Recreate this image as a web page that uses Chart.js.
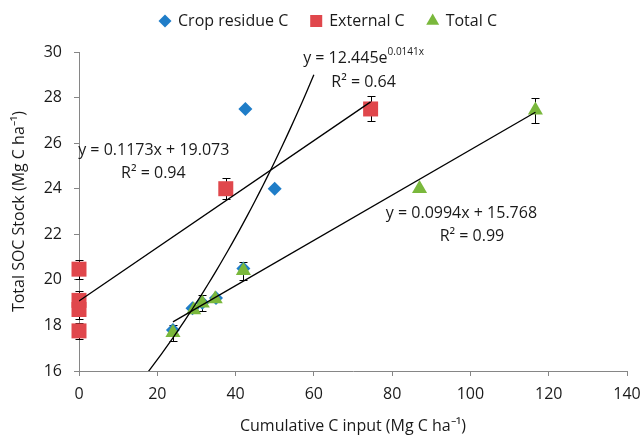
<!DOCTYPE html>
<html>
<head>
<meta charset="utf-8">
<script src="https://cdn.jsdelivr.net/npm/chart.js@4.4.0/dist/chart.umd.min.js"></script>
<style>
  html, body { margin: 0; padding: 0; background: #fff; }
  #wrap { width: 642px; height: 436px; }
</style>
</head>
<body>
<div id="wrap"><canvas id="socChart"></canvas></div>
<script>
// Crop residue C
const residueX = [24, 29, 31.5, 35, 42, 42.5, 50];
const residueY = [17.8, 18.75, 19.0, 19.2, 20.5, 27.5, 24.0];

// External C
const externalX = [0, 0, 0, 0, 37.5, 74.5];
const externalY = [20.47, 19.1, 18.7, 17.76, 24.0, 27.5];
const externalErr = [0.42, 0.4, 0.4, 0.35, 0.47, 0.55];

// Total C
const totalX = [24, 29.3, 31.5, 34.8, 42, 87, 116.6];
const totalY = [17.68, 18.68, 18.98, 19.16, 20.4, 24.0, 27.45];
const totalErr = [0.35, 0, 0.35, 0, 0.4, 0, 0.55];

// trendlines, coefficients as printed on the chart
const externalFit = [0.1173, 19.073];   // y = a*x + b
const totalFit = [0.0994, 15.768];      // y = a*x + b
const residueFit = [12.445, 0.0141];    // y = a*e^(b*x)
const externalFitRange = [0, 74.5];
const totalFitRange = [24, 116.6];
const residueFitRange = [16, 60];

const xTicks = [0, 20, 40, 60, 80, 100, 120, 140];
const yTicks = [16, 18, 20, 22, 24, 26, 28, 30];

const textColor = '#1a1a1a';
const axisColor = '#868686';
const FONT = "'Open Sans', sans-serif";

function toPoints(xs, ys) {
  return xs.map((x, i) => ({ x: x, y: ys[i] }));
}

function linearLine(fit, range) {
  return range.map(x => ({ x: x, y: fit[0] * x + fit[1] }));
}

function expLine(fit, range) {
  const pts = [];
  for (let x = range[0]; x <= range[1]; x += 1) {
    pts.push({ x: x, y: fit[0] * Math.exp(fit[1] * x) });
  }
  return pts;
}

const trendStyle = {
  showLine: true,
  pointRadius: 0,
  borderColor: '#000',
  borderWidth: 1.3,
  fill: false,
  order: 0
};

// error bars, drawn under the markers
const errorBars = {
  id: 'errorBars',
  beforeDatasetsDraw(chart) {
    const { ctx, scales: { x, y } } = chart;
    ctx.save();
    ctx.strokeStyle = '#000';
    ctx.lineWidth = 1;
    chart.data.datasets.forEach(ds => {
      if (!ds.errors) return;
      ds.data.forEach((p, i) => {
        const e = ds.errors[i];
        if (!e) return;
        const px = Math.round(x.getPixelForValue(p.x)) + 0.5;
        const top = Math.round(y.getPixelForValue(p.y + e)) + 0.5;
        const bot = Math.round(y.getPixelForValue(p.y - e)) + 0.5;
        ctx.beginPath();
        ctx.moveTo(px, top); ctx.lineTo(px, bot);
        ctx.moveTo(px - 4, top); ctx.lineTo(px + 4, top);
        ctx.moveTo(px - 4, bot); ctx.lineTo(px + 4, bot);
        ctx.stroke();
      });
    });
    ctx.restore();
  }
};

// equation labels, placed in data coordinates
const equations = [
  { x: 19.1, y: 25.69, text: 'y = 0.1173x + 19.073' },
  { x: 19.0, y: 24.68, text: 'R² = 0.94' },
  { x: 72.7, y: 29.73, text: 'y = 12.445e', sup: '0.0141x' },
  { x: 72.7, y: 28.68, text: 'R² = 0.64' },
  { x: 97.7, y: 22.93, text: 'y = 0.0994x + 15.768' },
  { x: 100.4, y: 21.89, text: 'R² = 0.99' }
];

const equationLabels = {
  id: 'equationLabels',
  afterDatasetsDraw(chart) {
    const { ctx, scales: { x, y } } = chart;
    ctx.save();
    ctx.fillStyle = textColor;
    ctx.textBaseline = 'middle';
    ctx.textAlign = 'left';
    equations.forEach(eq => {
      const cx = x.getPixelForValue(eq.x);
      const cy = y.getPixelForValue(eq.y);
      ctx.font = '16px ' + FONT;
      const w1 = ctx.measureText(eq.text).width;
      let w2 = 0;
      if (eq.sup) {
        ctx.font = '10px ' + FONT;
        w2 = ctx.measureText(eq.sup).width;
      }
      const left = cx - (w1 + w2) / 2;
      ctx.font = '16px ' + FONT;
      ctx.fillText(eq.text, left, cy);
      if (eq.sup) {
        ctx.font = '10px ' + FONT;
        ctx.fillText(eq.sup, left + w1, cy - 6);
      }
    });
    ctx.restore();
  }
};

// legend row at the top
const topLegend = {
  id: 'topLegend',
  afterDraw(chart) {
    const { ctx } = chart;
    const items = chart.data.datasets.filter(ds => ds.legendRadius);
    ctx.save();
    ctx.font = '16px ' + FONT;
    ctx.textBaseline = 'middle';
    const box = 12, gap = 7, itemGap = 22;
    const widths = items.map(ds => box + gap + ctx.measureText(ds.label).width);
    const total = widths.reduce((a, b) => a + b, 0) + itemGap * (items.length - 1);
    let xPos = 328 - total / 2;
    const yPos = 21;
    items.forEach((ds, i) => {
      ctx.fillStyle = ds.backgroundColor;
      ctx.strokeStyle = ds.backgroundColor;
      Chart.helpers.drawPoint(ctx, {
        pointStyle: ds.pointStyle, radius: ds.legendRadius, rotation: 0, borderWidth: 0
      }, xPos + box / 2, yPos);
      ctx.fillStyle = textColor;
      ctx.fillText(ds.label, xPos + box + gap, yPos);
      xPos += widths[i] + itemGap;
    });
    ctx.restore();
  }
};

Chart.defaults.font.family = FONT;
Chart.defaults.font.size = 16;
Chart.defaults.color = textColor;

new Chart(document.getElementById('socChart'), {
  type: 'scatter',
  data: {
    datasets: [
      Object.assign({ label: 'External C fit', data: linearLine(externalFit, externalFitRange) }, trendStyle),
      Object.assign({ label: 'Total C fit', data: linearLine(totalFit, totalFitRange) }, trendStyle),
      Object.assign({ label: 'Crop residue C fit', data: expLine(residueFit, residueFitRange) }, trendStyle),
      {
        label: 'Crop residue C',
        data: toPoints(residueX, residueY),
        pointStyle: 'rectRot',
        pointRadius: 7,
        pointBorderWidth: 0,
        backgroundColor: '#1F7DC8',
        legendRadius: 6.5,
        clip: false,
        order: 3
      },
      {
        label: 'External C',
        data: toPoints(externalX, externalY),
        errors: externalErr,
        pointStyle: 'rect',
        pointRadius: 10.6,
        pointBorderWidth: 0,
        backgroundColor: '#E0474C',
        legendRadius: 8.5,
        clip: false,
        order: 2
      },
      {
        label: 'Total C',
        data: toPoints(totalX, totalY),
        errors: totalErr,
        pointStyle: 'triangle',
        pointRadius: 8.7,
        pointBorderWidth: 0,
        backgroundColor: '#7AB83C',
        legendRadius: 7.5,
        clip: false,
        order: 1
      }
    ]
  },
  options: {
    responsive: true,
    maintainAspectRatio: false,
    animation: false,
    layout: { padding: { top: 52, right: 15, bottom: 0, left: 0 } },
    plugins: {
      legend: { display: false },
      tooltip: { enabled: false }
    },
    scales: {
      x: {
        type: 'linear',
        min: 0,
        max: 140,
        afterFit: s => { s.height = 65; s.paddingRight = 0; s.paddingLeft = 0; },
        afterBuildTicks: s => { s.ticks = xTicks.map(v => ({ value: v })); },
        ticks: { padding: 9, color: textColor },
        grid: { drawOnChartArea: false, drawTicks: true, tickLength: 5, color: axisColor },
        border: { color: axisColor },
        title: {
          display: true,
          text: 'Cumulative C input (Mg C ha⁻¹)',
          color: textColor,
          padding: { top: 0, bottom: 0 }
        }
      },
      y: {
        type: 'linear',
        min: 16,
        max: 30,
        afterFit: s => { s.width = 79; },
        afterBuildTicks: s => { s.ticks = yTicks.map(v => ({ value: v })); },
        ticks: { padding: 12, color: textColor },
        grid: { drawOnChartArea: false, drawTicks: true, tickLength: 5, color: axisColor },
        border: { color: axisColor },
        title: {
          display: true,
          text: 'Total SOC Stock (Mg C ha⁻¹)',
          color: textColor,
          padding: { top: 10, bottom: 0 }
        }
      }
    }
  },
  plugins: [errorBars, equationLabels, topLegend]
});
</script>
</body>
</html>
